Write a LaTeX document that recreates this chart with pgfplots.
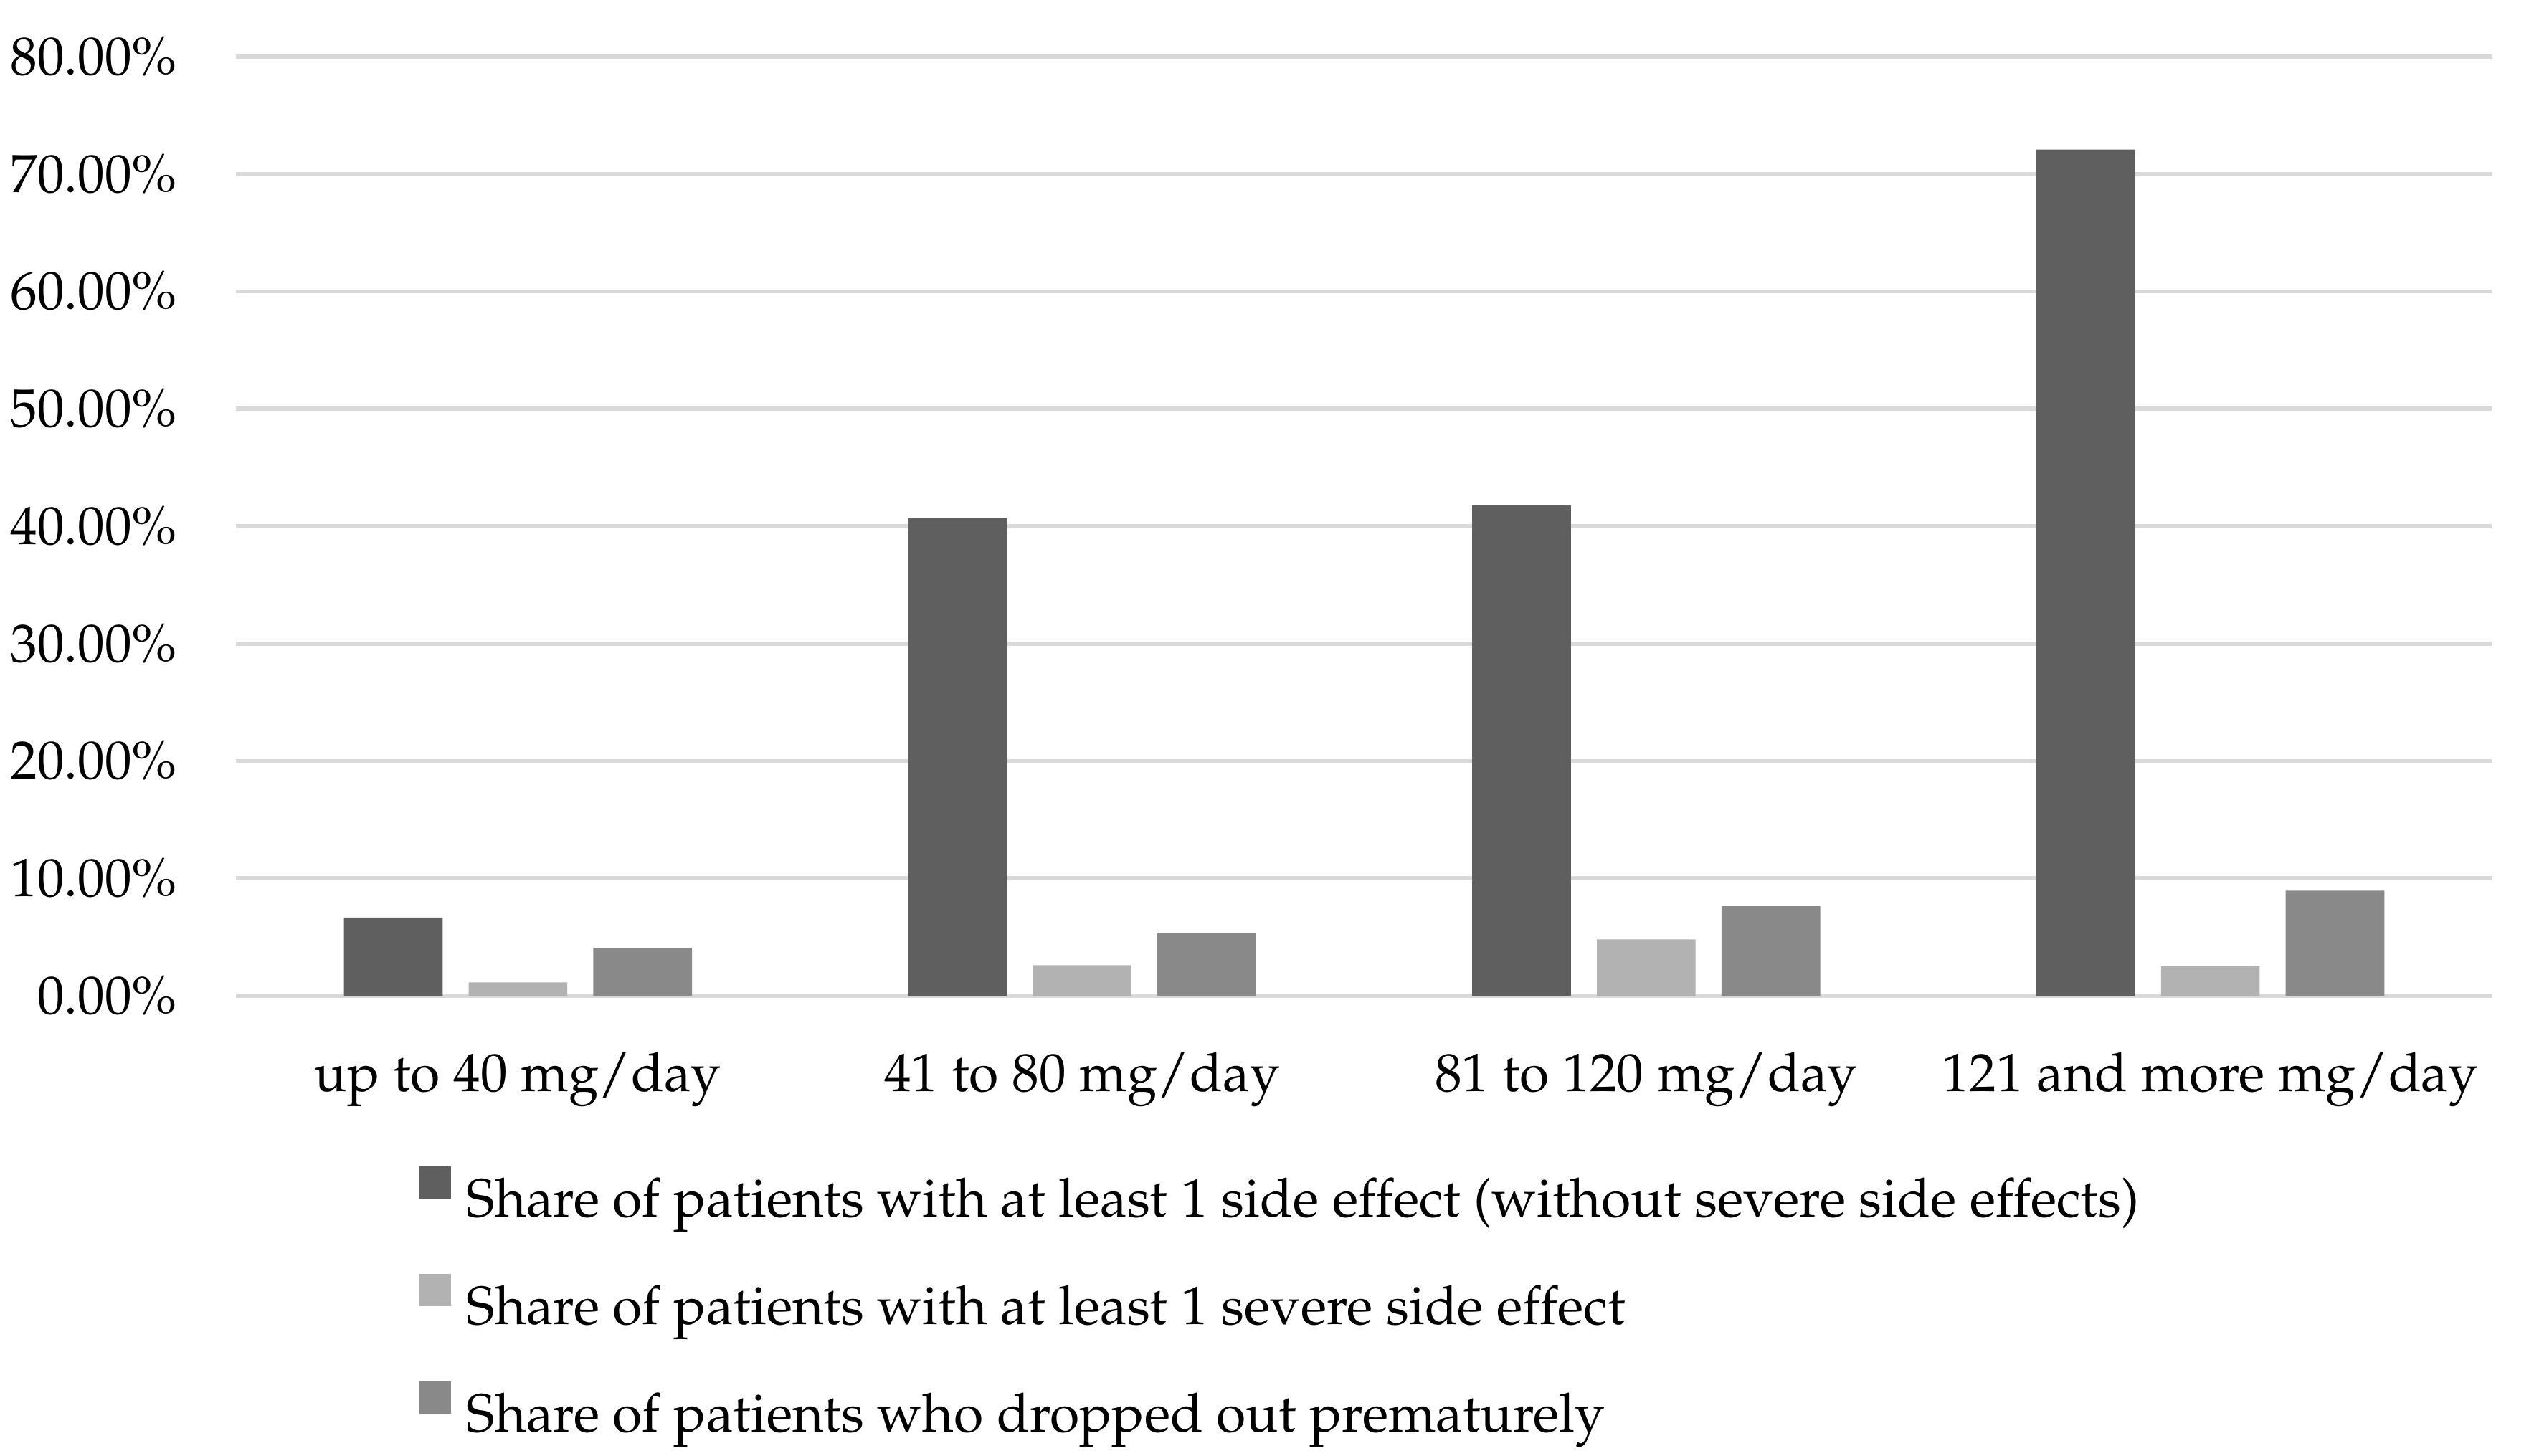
\documentclass[border=0pt]{standalone}
\usepackage[T1]{fontenc}
\usepackage{mathpazo}
\usepackage{pgfplots}
\pgfplotsset{compat=1.18}
\definecolor{sdark}{HTML}{5F5F5F}
\definecolor{slight}{HTML}{B2B2B2}
\definecolor{smed}{HTML}{898989}
\definecolor{gridc}{HTML}{D9D9D9}
\begin{document}
\fontsize{7.52pt}{9pt}\selectfont
\begin{tikzpicture}
\useasboundingbox (0,0) rectangle (353.4pt,203.1pt);
\begin{axis}[
 at={(32.9pt,64.2pt)}, anchor=south west,
 scale only axis, width=314.7pt, height=131pt,
 xmin=-0.5, xmax=3.5, ymin=0, ymax=80,
 xtick={0,1,2,3},
 xticklabels={up to 40 mg/day, 41 to 80 mg/day, 81 to 120 mg/day, 121 and more mg/day},
 ytick={0,10,...,80},
 /pgf/number format/assume math mode=true,
 yticklabel={\pgfmathprintnumber[fixed,fixed zerofill,precision=2]{\tick}\%},
 ymajorgrids, grid style={gridc, line width=0.57pt},
 axis line style={draw=none},
 major tick length=0pt,
 tick label style={font=\fontsize{7.52pt}{9pt}\selectfont, inner sep=0pt},
 xticklabel shift=7.7pt, yticklabel shift=8.0pt,
 ybar, bar width=0.175,
 legend cell align=left,
 legend style={at={(0.081,-0.1588)}, anchor=north west, draw=none, fill=none,
   inner sep=0pt, outer sep=0pt, font=\fontsize{7.52pt}{9pt}\selectfont, row sep=0pt,
   nodes={inner sep=0pt, text height=10pt, text depth=5pt},
   /tikz/every odd column/.append style={column sep=2.2pt}},
 legend image code/.code={\fill[#1, draw=none] (0pt,0pt) rectangle (4.5pt,4.5pt);},
]
\addplot[fill=sdark, draw=none, bar shift=-0.221] coordinates {(0,6.67) (1,40.69) (2,41.78) (3,72.08)};
\addlegendentry{Share of patients with at least 1 side effect (without severe side effects)}
\addplot[fill=slight, draw=none, bar shift=0] coordinates {(0,1.13) (1,2.60) (2,4.80) (3,2.53)};
\addlegendentry{Share of patients with at least 1 severe side effect}
\addplot[fill=smed, draw=none, bar shift=0.221] coordinates {(0,4.09) (1,5.30) (2,7.63) (3,8.95)};
\addlegendentry{Share of patients who dropped out prematurely}
\end{axis}
\end{tikzpicture}
\end{document}
